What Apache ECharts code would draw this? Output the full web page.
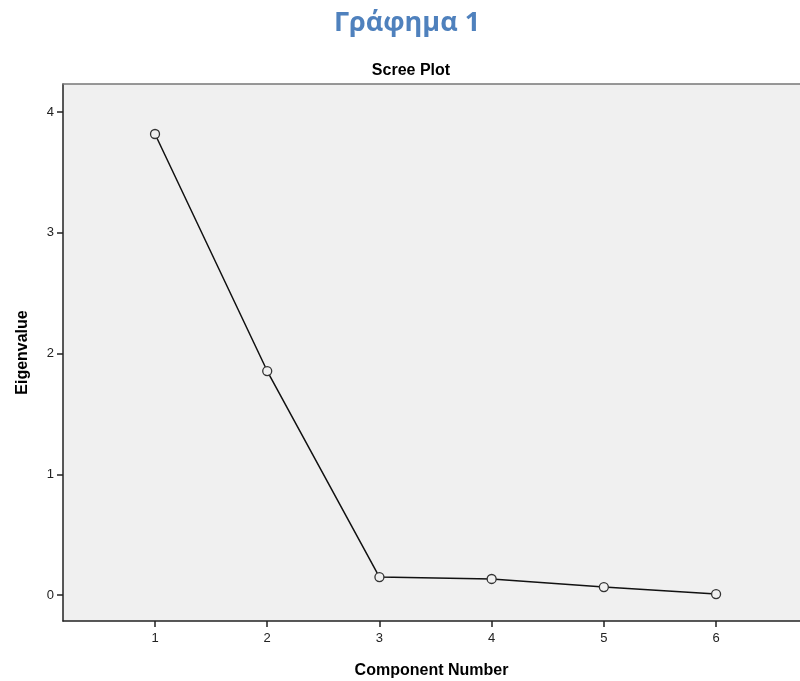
<!DOCTYPE html>
<html><head><meta charset="utf-8">
<script src="https://cdn.jsdelivr.net/npm/echarts@6/dist/echarts.min.js"></script>
<style>html,body{margin:0;padding:0;background:#fff}#c{width:800px;height:681px}</style>
</head><body><div id="c"></div>
<script>
const components = [1, 2, 3, 4, 5, 6];
const eigenvalues = [3.818, 1.855, 0.149, 0.133, 0.066, 0.008];
const yTicks = [0, 1, 2, 3, 4];
const xTicks = [1, 2, 3, 4, 5, 6];

const chart = echarts.init(document.getElementById('c'));
chart.setOption({
  animation: false,
  title: [
    {text: 'Γράφημα 1', left: 402, top: 5, textAlign: 'center',
     textStyle: {fontFamily: 'Open Sans', fontWeight: 'bold', fontSize: 27, color: '#4f81bd'}},
    {text: 'Scree Plot', left: 406, top: 58, textAlign: 'center',
     textStyle: {fontFamily: 'Liberation Sans', fontWeight: 'bold', fontSize: 16, color: '#000'}}
  ],
  grid: {left: 63, top: 84, right: 0, bottom: 60, show: true, outerBoundsMode: 'none',
         backgroundColor: '#f0f0f0', borderWidth: 0},
  xAxis: [{
    type: 'value', min: 0.18, max: 6.748,
    name: 'Component Number', nameLocation: 'middle', nameGap: 42,
    nameTextStyle: {fontFamily: 'Liberation Sans', fontWeight: 'bold', fontSize: 16, color: '#000'},
    axisLine: {show: true, onZero: false, lineStyle: {color: '#222', width: 1.5}},
    axisTick: {show: true, length: 6, customValues: xTicks, lineStyle: {color: '#222', width: 1.5}},
    axisLabel: {customValues: xTicks, margin: 11, fontFamily: 'Liberation Sans', fontSize: 13, color: '#222'},
    splitLine: {show: false}
  }, {
    type: 'value', position: 'top', min: 0.18, max: 6.748,
    axisLine: {show: true, onZero: false, lineStyle: {color: '#777', width: 1.5}},
    axisTick: {show: false}, axisLabel: {show: false}, splitLine: {show: false}
  }],
  yAxis: {
    type: 'value', min: -0.215, max: 4.232,
    name: 'Eigenvalue', nameLocation: 'middle', nameGap: 32, nameRotate: 90,
    nameTextStyle: {fontFamily: 'Liberation Sans', fontWeight: 'bold', fontSize: 16, color: '#000'},
    axisLine: {show: true, onZero: false, lineStyle: {color: '#222', width: 1.5}},
    axisTick: {show: true, length: 6, customValues: yTicks, lineStyle: {color: '#222', width: 1.5}},
    axisLabel: {customValues: yTicks, margin: 9, fontFamily: 'Liberation Sans', fontSize: 13, color: '#222'},
    splitLine: {show: false}
  },
  series: [{
    type: 'line',
    data: components.map((c, i) => [c, eigenvalues[i]]),
    symbol: 'circle', symbolSize: 9,
    lineStyle: {color: '#111', width: 1.5},
    itemStyle: {color: '#f0f0f0', borderColor: '#333', borderWidth: 1.3},
    emphasis: {disabled: true}
  }]
});
</script></body></html>
